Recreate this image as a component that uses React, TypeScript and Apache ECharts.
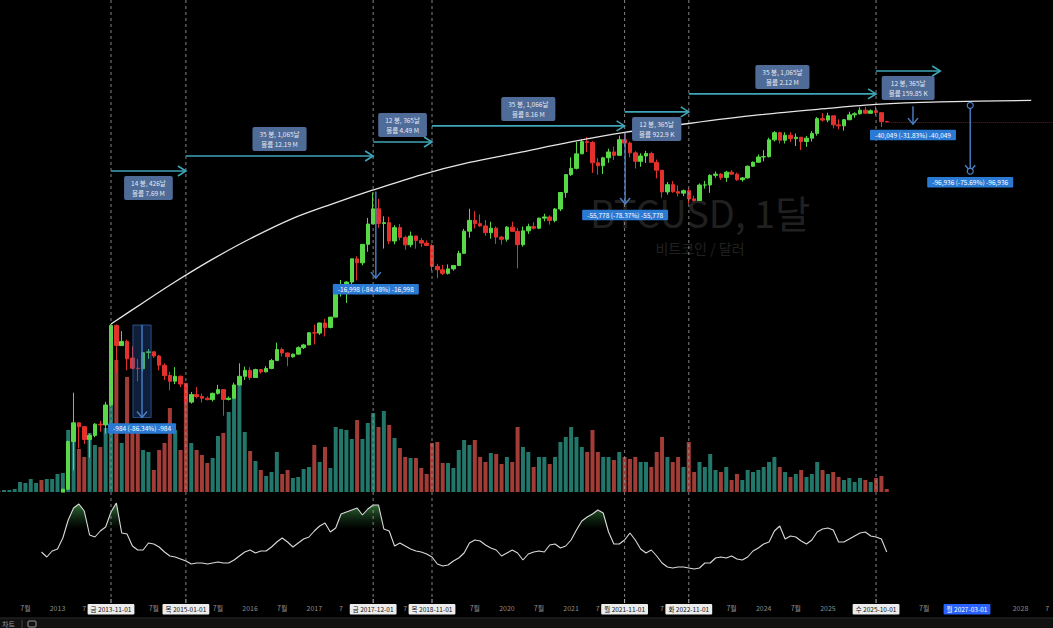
import { useEffect, useRef } from 'react';
import * as echarts from 'echarts';

// ---------- categories (months) ----------
const months: string[] = [];
for (let y = 2012; y <= 2028; y++) {
  for (let m = 1; m <= 12; m++) {
    if (y === 2028 && m > 8) break;
    months.push(`${y}-${String(m).padStart(2, '0')}`);
  }
}

// ---------- monthly OHLC  [open, high, low, close] ----------
const ohlc2012 = [[5.3,7.2,5.2,5.5],[5.5,6.2,4.3,4.9],[4.9,5.4,4.6,4.9],[4.9,5.3,4.8,5.0],[5.0,5.2,4.9,5.1],[5.1,6.7,5.1,6.6],[6.6,9.5,6.5,9.3],[9.3,15.4,7.1,10.1],[10.1,12.9,9.9,12.4],[12.4,12.9,10.0,11.2],[11.2,12.7,10.5,12.6],[12.6,13.8,12.3,13.5]];
const ohlc2013 = [[13.5,20.8,13.3,20.4],[20.4,33.4,19.1,33.4],[33.4,95,33,93],[93,266,50,139],[139,140,80,128],[128,130,88,97],[97,110,66,106],[106,138,102,135],[135,145,115,133],[133,218,110,204],[204,1163,197,1130],[1130,1150,410,732]];
const ohlc2014 = [[732,1000,730,800],[800,830,430,550],[560,720,440,450],[450,550,340,445],[445,630,420,630],[630,680,550,640],[640,650,560,585],[585,600,430,480],[480,500,350,385],[385,415,280,340],[340,460,320,378],[378,385,300,320]];
const ohlc2015 = [[320,320,152,217],[217,270,210,255],[255,300,235,245],[245,260,215,236],[236,245,225,229],[229,266,220,262],[262,315,255,284],[284,285,162,230],[230,245,225,236],[236,330,235,314],[314,500,310,378],[378,465,350,430]];
const ohlc2016 = [[430,460,350,368],[368,445,365,437],[437,440,400,416],[416,470,412,448],[448,550,440,530],[530,780,530,673],[673,700,580,624],[624,630,470,575],[575,615,565,609],[609,720,605,700],[700,760,680,742],[742,980,740,964]];
const ohlc2017 = [[964,1150,750,958],[958,1200,920,1190],[1190,1300,890,1080],[1080,1350,1060,1350],[1350,2760,1350,2300],[2300,3000,2100,2480],[2480,2930,1830,2870],[2870,4750,2700,4730],[4730,5000,2970,4340],[4340,6470,4120,6460],[6460,11400,5500,10000],[10000,19666,10400,13850]];
const ohlc2018 = [[13850,17200,9200,10100],[10100,11800,5900,10300],[10300,11700,6500,6930],[6930,9750,6450,9250],[9250,9990,7050,7500],[7500,7770,5750,6390],[6390,8500,6070,7730],[7730,7760,5880,7010],[7010,7410,6100,6630],[6630,7000,6200,6300],[6300,6550,3650,4020],[4020,4240,3120,3740]];
const ohlc2019 = [[3740,4150,3350,3460],[3460,4200,3370,3810],[3810,4150,3670,4100],[4100,5620,4050,5320],[5320,9000,5320,8570],[8570,13900,7450,10820],[10820,13200,9100,10080],[10080,12300,9400,9600],[9600,10900,7750,8300],[8300,10500,7300,9150],[9150,9500,6520,7550],[7550,7750,6430,7200]];
const ohlc2020 = [[7200,9580,6850,9350],[9350,10500,8450,8540],[8540,9200,3850,6410],[6410,9470,6150,8630],[8630,10070,8100,9450],[9450,10400,8900,9140],[9140,11450,8950,11350],[11350,12470,10600,11650],[11650,12070,9870,10780],[10780,14100,10370,13800],[13800,19900,13200,19700],[19700,29300,17600,28950]];
const ohlc2021 = [[28950,41950,28100,33100],[33100,58350,32300,45200],[45200,61800,45000,58800],[58800,64900,47000,57700],[57700,59500,30000,37300],[37300,41300,28800,35000],[35000,42400,29300,41500],[41500,50500,37300,47100],[47100,52900,39600,43800],[43800,67000,43300,61300],[61300,69000,53300,57000],[57000,59100,42000,46200]];
const ohlc2022 = [[46200,47900,33000,38500],[38500,45800,34300,43200],[43200,48200,37200,45500],[45500,47400,37600,37700],[37700,40000,26700,31800],[31800,31900,17600,19950],[19950,24700,18800,23300],[23300,25200,19600,20050],[20050,22800,18150,19420],[19420,20990,18200,20490],[20490,21480,15480,17170],[17170,18400,16260,16540]];
const ohlc2023 = [[16540,23950,16500,23130],[23130,25250,21400,23150],[23150,29200,19550,28480],[28480,31000,26950,29250],[29250,29850,25800,27220],[27220,31400,24800,30480],[30480,31850,28860,29230],[29230,30180,25300,25940],[25940,27500,24900,26970],[26970,35200,26560,34660],[34660,38420,34100,37720],[37720,44700,37600,42280]];
const ohlc2024 = [[42280,48970,38500,42580],[42580,64000,41880,61130],[61130,73800,59000,71330],[71330,72800,56500,60640],[60640,71950,56550,67530],[67530,71950,58400,62680],[62680,70000,53500,64630],[64630,65100,49000,58970],[58970,66500,52550,63330],[63330,73620,58900,70220],[70220,99800,66800,96450],[96450,108300,90500,93430]];
const ohlc2025 = [[93430,109350,89200,102430],[102430,102500,78250,84350],[84350,95000,76600,82550],[82550,95750,74500,94200],[94200,111980,93350,104600],[104600,110600,98200,107150],[107150,123200,105100,115760],[115760,124450,107300,108250],[108250,117900,107270,114050],[114050,126200,103500,109600],[109600,110700,80600,90400],[90400,91900,89200,89900]];

const vol2012 = [1,1,2,2,3,10,9,13,9,12,13,13];
const vol2013 = [18,19,62,52,43,35,59,47,45,64,95,132];
const vol2014 = [49,115,59,62,42,40,22,42,49,84,62,42];
const vol2015 = [109,49,42,37,29,34,56,59,80,97,110,60];
const vol2016 = [41,31,22,16,20,40,18,22,14,15,23,25];
const vol2017 = [47,30,45,24,65,63,62,53,72,53,69,79];
const vol2018 = [65,81,67,54,44,35,34,34,24,18,49,50];
const vol2019 = [29,29,24,42,52,47,52,35,30,39,38,28];
const vol2020 = [35,30,65,45,40,25,35,35,28,35,50,55];
const vol2021 = [65,55,45,40,62,40,35,35,32,40,35,33];
const vol2022 = [35,30,30,25,40,55,35,30,35,25,50,20];
const vol2023 = [30,25,38,22,20,25,12,18,12,22,20,22];
const vol2024 = [25,30,35,25,20,15,18,22,15,18,30,22];
const vol2025 = [18,20,15,12,14,10,14,12,10,14,16,3];

const rsi2012 = [null,null,null,null,null,null,null,null,null,46,41,47];
const rsi2013 = [49,60,78,90,94,87,63,61,67,71,86,95];
const rsi2014 = [65,64,52,48,48,55,54,51,46,42,41,39];
const rsi2015 = [37,34,35,35,34,35,36,35,35,38,42,46];
const rsi2016 = [48,45,47,47,51,56,60,56,51,55,59,61];
const rsi2017 = [67,72,75,66,70,84,86,88,90,83,89,93];
const rsi2018 = [93,69,67,52,55,52,49,47,46,44,41,34];
const rsi2019 = [32,33,37,40,45,55,58,57,53,50,48,42];
const rsi2020 = [45,48,45,38,44,46,47,46,53,54,50,52];
const rsi2021 = [58,68,77,81,84,88,85,66,54,54,58,65];
const rsi2022 = [58,49,45,48,42,35,31,30,31,31,30,29];
const rsi2023 = [30,35,35,40,41,40,42,39,38,41,47,50];
const rsi2024 = [54,56,67,72,59,62,61,57,54,58,66,69];
const rsi2025 = [70,68,56,56,59,62,65,66,62,61,59,46];

// ---------- drawing: arc (month, price) ----------
const curveMonths = ['2013-11','2014-05','2014-11','2015-06','2016-01','2016-09','2017-04','2017-12','2018-09','2019-06','2020-03','2021-01','2021-11','2022-11','2023-12','2025-01','2025-10','2026-10','2028-03'];
const curvePrices = [1165,1842,2887,4694,7281,11290,15190,20800,28830,37560,46180,58400,71660,86900,104400,120100,130900,138200,142700];

// ---------- marked dates ----------
const vlineMonths = ['2013-11','2015-01','2017-12','2018-11','2021-11','2022-11','2025-10'];
const markedLabels = ['금 2013-11-01','목 2015-01-01','금 2017-12-01','목 2018-11-01','월 2021-11-01','화 2022-11-01','수 2025-10-01'];
const cursorMonth = '2027-03';
const cursorLabel = '월 2027-03-01';
const tickMonths = ['2012-07','2013-01','2013-07','2014-07','2015-07','2016-01','2016-07','2017-01','2017-07','2018-07','2019-07','2020-01','2020-07','2021-01','2021-07','2022-07','2023-07','2024-01','2024-07','2025-01','2026-07','2028-01','2028-07'];
const clippedTicks = ['2013-07','2017-07','2018-07','2021-07','2022-07','2028-07'];

// ---------- date range drawings ----------
const rangeFrom = ['2013-11','2015-01','2017-12','2018-11','2021-11','2022-11','2025-10'];
const rangeTo = ['2015-01','2017-12','2018-11','2021-11','2022-11','2025-10','2026-10'];
const rangePrice = [31300,43200,58400,82500,111500,164200,268900];
const rangeAbove = [false,true,true,true,false,true,false];
const rangeBars = ['14 봉, 426날','35 봉, 1,065날','12 봉, 365날','35 봉, 1,066날','12 봉, 365날','35 봉, 1,065날','12 봉, 365날'];
const rangeVols = ['볼륨 7.69 M','볼륨 12.19 M','볼륨 4.49 M','볼륨 8.16 M','볼륨 922.9 K','볼륨 2.12 M','볼륨 159.85 K'];

// ---------- price range drawings ----------
const prMonth = ['2014-04','2017-12','2021-11','2026-04','2027-03'];
const prFrac = [0.8,0.5,0.1,0.9,0.6];
const prTop = [1140,20121,71172,125823,128068];
const prBottom = [156,3123,15394,85774,31132];
const prLabel = ['-984 (-86.34%) -984','-16,998 (-84.48%) -16,998','-55,778 (-78.37%) -55,778','-40,049 (-31.83%) -40,049','-96,936 (-75.69%) -96,936'];

const FONT = "'Noto Sans CJK KR', 'Noto Sans', sans-serif";
const UP = '#58d947';
const DOWN = '#e4312d';
const VUP = '#22766a';
const VDN = '#a13d36';
const OFF = 10; // chart canvas starts 10px left of the page

export default function App() {
  const ref = useRef<HTMLDivElement>(null);
  useEffect(() => {
    if (!ref.current) return;
    const chart = echarts.init(ref.current, undefined, { renderer: 'svg' });

    const ohlc = [...ohlc2012, ...ohlc2013, ...ohlc2014, ...ohlc2015, ...ohlc2016, ...ohlc2017, ...ohlc2018, ...ohlc2019, ...ohlc2020, ...ohlc2021, ...ohlc2022, ...ohlc2023, ...ohlc2024, ...ohlc2025];
    const vols = [...vol2012, ...vol2013, ...vol2014, ...vol2015, ...vol2016, ...vol2017, ...vol2018, ...vol2019, ...vol2020, ...vol2021, ...vol2022, ...vol2023, ...vol2024, ...vol2025];
    const rsi: (number | null)[] = [...rsi2012, ...rsi2013, ...rsi2014, ...rsi2015, ...rsi2016, ...rsi2017, ...rsi2018, ...rsi2019, ...rsi2020, ...rsi2021, ...rsi2022, ...rsi2023, ...rsi2024, ...rsi2025];

    const candleData = ohlc.map(([o, h, l, c]) => [o, c, l, h]);
    const volData = vols.map((v, i) => ({ value: v, itemStyle: { color: ohlc[i][3] >= ohlc[i][0] ? VUP : VDN } }));
    const obBase = rsi.map((v) => (v == null ? null : 70));
    const obOver = rsi.map((v) => (v == null ? null : Math.max(0, v - 70)));
    const lastIdx = ohlc.length - 1;
    const lastClose = ohlc[lastIdx][3];

    const GL = 0.625;
    const GW = 1070;
    const markedSet = new Map<string, string>();
    vlineMonths.forEach((m, i) => markedSet.set(m, markedLabels[i]));
    const tickSet = new Set(tickMonths);
    const clipSet = new Set(clippedTicks);

    const xAxes = [0, 1, 2].map((gi) => ({
      type: 'category',
      gridIndex: gi,
      data: months,
      boundaryGap: true,
      axisLine: { show: false },
      axisTick: { show: false },
      splitLine: { show: false },
      axisLabel:
        gi === 2
          ? {
              show: true,
              interval: (_i: number, v: string) => tickSet.has(v) || markedSet.has(v) || v === cursorMonth,
              formatter: (v: string) => {
                if (markedSet.has(v)) return `{box|${markedSet.get(v)}}`;
                if (v === cursorMonth) return `{blue|${cursorLabel}}`;
                if (clipSet.has(v)) return '{p7|7}';
                return v.endsWith('-07') ? '7월' : v.slice(0, 4);
              },
              color: '#8d8d8d',
              fontSize: 7,
              fontFamily: FONT,
              margin: 6,
              rich: {
                box: { backgroundColor: '#ececec', color: '#111', padding: [2, 3], borderRadius: 1, fontSize: 6.5, fontFamily: FONT },
                blue: { backgroundColor: '#2962ff', color: '#fff', padding: [2, 3], borderRadius: 1, fontSize: 6.5, fontFamily: FONT },
                p7: { color: '#8d8d8d', fontSize: 7, fontFamily: FONT, padding: [0, 11, 0, 0] },
              },
            }
          : { show: false },
    }));

    chart.setOption({
      backgroundColor: '#000000',
      animation: false,
      grid: [
        { left: GL, width: GW, top: 0, height: 492 },
        { left: GL, width: GW, top: 342, height: 150 },
        { left: GL, width: GW, top: 498, height: 100 },
      ],
      xAxis: xAxes,
      yAxis: [
        { type: 'log', gridIndex: 0, min: 31.4, max: 1237000, show: false },
        { type: 'value', gridIndex: 1, min: 0, max: 150, show: false },
        { type: 'value', gridIndex: 2, min: 0, max: 100, show: false },
      ],
      series: [
        { type: 'bar', name: 'volume', xAxisIndex: 1, yAxisIndex: 1, data: volData, barWidth: 4, z: 1 },
        {
          type: 'candlestick', name: 'BTCUSD', xAxisIndex: 0, yAxisIndex: 0, data: candleData, barWidth: 4, clip: true, z: 3,
          itemStyle: { color: UP, color0: DOWN, borderColor: UP, borderColor0: DOWN, borderWidth: 1 },
          markLine: {
            silent: true, symbol: 'none', label: { show: false },
            lineStyle: { color: '#6e1c1c', type: 'dotted', width: 1 },
            data: [[{ coord: [lastIdx, lastClose] }, { coord: [months.length - 1, lastClose] }]],
          },
        },
        {
          type: 'line', name: 'arc', xAxisIndex: 0, yAxisIndex: 0,
          data: curveMonths.map((m, i) => [m, curvePrices[i]]),
          smooth: 0.3, symbol: 'none',
          lineStyle: { color: '#e6e6e6', width: 1.3 }, z: 10,
        },
        { type: 'line', name: 'obBase', xAxisIndex: 2, yAxisIndex: 2, stack: 'ob', data: obBase, symbol: 'none', lineStyle: { opacity: 0 }, z: 4 },
        {
          type: 'line', name: 'obFill', xAxisIndex: 2, yAxisIndex: 2, stack: 'ob', data: obOver, symbol: 'none', lineStyle: { opacity: 0 }, z: 4,
          areaStyle: {
            color: new echarts.graphic.LinearGradient(0, 0, 0, 1, [
              { offset: 0, color: 'rgba(90,200,100,0.85)' },
              { offset: 1, color: 'rgba(40,110,50,0.05)' },
            ]),
          },
        },
        { type: 'line', name: 'RSI', xAxisIndex: 2, yAxisIndex: 2, data: rsi, symbol: 'none', lineStyle: { color: '#d9d9d9', width: 1.1 }, z: 5 },
      ],
    });

    const xy = (m: string, frac: number, price: number) => {
      const i = months.indexOf(m);
      const a = chart.convertToPixel({ gridIndex: 0 }, [i, price]) as number[];
      const b = chart.convertToPixel({ gridIndex: 0 }, [i + 1, price]) as number[];
      return [a[0] + frac * (b[0] - a[0]), a[1]];
    };

    const g: any[] = [];
    // cover for candles spilling below the price pane
    g.push({ type: 'rect', z: 3.5, silent: true, shape: { x: 0, y: 492.5, width: 1080, height: 105.5 }, style: { fill: '#000' } });
    // watermark
    g.push({ type: 'text', x: 700 + OFF, y: 211, z: 0, silent: true, style: { text: 'BTCUSD, 1달', fill: '#202020', fontSize: 38, fontFamily: FONT, align: 'center', verticalAlign: 'middle', textAlign: 'center', textVerticalAlign: 'middle' } });
    g.push({ type: 'text', x: 700 + OFF, y: 248, z: 0, silent: true, style: { text: '비트코인 / 달러', fill: '#202020', fontSize: 14, fontFamily: FONT, align: 'center', verticalAlign: 'middle', textAlign: 'center', textVerticalAlign: 'middle' } });

    // dashed vertical lines
    vlineMonths.forEach((m) => {
      const [x] = xy(m, 0, 1000);
      g.push({ type: 'line', z: 6, silent: true, shape: { x1: x, y1: 0, x2: x, y2: 598 }, style: { stroke: '#9a9a9a', lineWidth: 1, lineDash: [3, 3], opacity: 0.85 } });
      g.push({ type: 'line', z: 6, silent: true, shape: { x1: x, y1: 599, x2: x, y2: 603 }, style: { stroke: '#bdbdbd', lineWidth: 1 } });
    });

    // date range arrows
    const AC = '#3ea6b8';
    rangeFrom.forEach((f, i) => {
      const [x1, y] = xy(f, 0, rangePrice[i]);
      const [x2] = xy(rangeTo[i], 0, rangePrice[i]);
      g.push({ type: 'line', z: 50, silent: true, shape: { x1, y1: y, x2, y2: y }, style: { stroke: AC, lineWidth: 1.6 } });
      g.push({ type: 'polyline', z: 50, silent: true, shape: { points: [[x2 - 8, y - 5], [x2, y], [x2 - 8, y + 5]] }, style: { stroke: AC, lineWidth: 1.6, fill: 'none' } });
      const cy = y + (rangeAbove[i] ? -17 : 17);
      g.push({
        type: 'text', z: 60, silent: true, x: (x1 + x2) / 2, y: cy,
        style: {
          text: `${rangeBars[i]}\n${rangeVols[i]}`, fill: '#e4e9f2', fontSize: 6.5, lineHeight: 10, fontFamily: FONT,
          backgroundColor: '#4f6b98', padding: [2, 7], borderRadius: 2,
          align: 'center', verticalAlign: 'middle', textAlign: 'center', textVerticalAlign: 'middle',
        },
      });
    });

    // price range drawings
    const PC = '#4a80c8';
    prMonth.forEach((m, i) => {
      const [x, yt] = xy(m, prFrac[i], prTop[i]);
      const [, yb] = xy(m, prFrac[i], prBottom[i]);
      if (i === 0) {
        const [xl] = xy('2014-03', 0.1, 1000);
        const [xr] = xy('2014-06', 0.5, 1000);
        g.push({ type: 'rect', z: 40, silent: true, shape: { x: xl, y: yt, width: xr - xl, height: yb - yt }, style: { fill: 'rgba(40,85,170,0.35)', stroke: 'rgba(70,120,200,0.6)', lineWidth: 1 } });
      }
      g.push({ type: 'line', z: 50, silent: true, shape: { x1: x, y1: yt, x2: x, y2: yb }, style: { stroke: PC, lineWidth: 1.4 } });
      g.push({ type: 'polyline', z: 50, silent: true, shape: { points: [[x - 5, yb - 6], [x, yb], [x + 5, yb - 6]] }, style: { stroke: PC, lineWidth: 1.4, fill: 'none' } });
      if (i === 4) {
        g.push({ type: 'circle', z: 51, silent: true, shape: { cx: x, cy: yt, r: 3 }, style: { stroke: PC, lineWidth: 1.2, fill: '#000' } });
        g.push({ type: 'circle', z: 51, silent: true, shape: { cx: x, cy: yb, r: 3 }, style: { stroke: PC, lineWidth: 1.2, fill: '#000' } });
      }
      g.push({
        type: 'text', z: 60, silent: true, x, y: yb + 11,
        style: {
          text: prLabel[i], fill: '#ffffff', fontSize: 6.5, fontFamily: FONT,
          backgroundColor: '#2a7ad4', padding: [2, 5], borderRadius: 1,
          align: 'center', verticalAlign: 'middle', textAlign: 'center', textVerticalAlign: 'middle',
        },
      });
    });

    // bottom toolbar strip
    g.push({ type: 'rect', z: 70, silent: true, shape: { x: OFF, y: 618, width: 1053, height: 10 }, style: { fill: '#111111' } });
    g.push({ type: 'line', z: 70, silent: true, shape: { x1: OFF, y1: 618, x2: OFF + 1053, y2: 618 }, style: { stroke: '#2a2a2a', lineWidth: 1 } });
    g.push({ type: 'text', z: 71, silent: true, x: OFF + 2, y: 624, style: { text: '차트', fill: '#9a9a9a', fontSize: 7, fontFamily: FONT, verticalAlign: 'middle', textVerticalAlign: 'middle' } });
    g.push({ type: 'line', z: 71, silent: true, shape: { x1: OFF + 22, y1: 620, x2: OFF + 22, y2: 628 }, style: { stroke: '#444', lineWidth: 1 } });
    g.push({ type: 'rect', z: 71, silent: true, shape: { x: OFF + 28, y: 621, width: 8, height: 6, r: 1 }, style: { fill: 'none', stroke: '#999', lineWidth: 1 } });

    chart.setOption({ graphic: g });

    return () => chart.dispose();
  }, []);

  return (
    <div style={{ position: 'fixed', left: 0, top: 0, width: 1053, height: 628, overflow: 'hidden', background: '#000' }}>
      <div ref={ref} style={{ position: 'absolute', left: -OFF, top: 0, width: 1080, height: 628 }} />
    </div>
  );
}
